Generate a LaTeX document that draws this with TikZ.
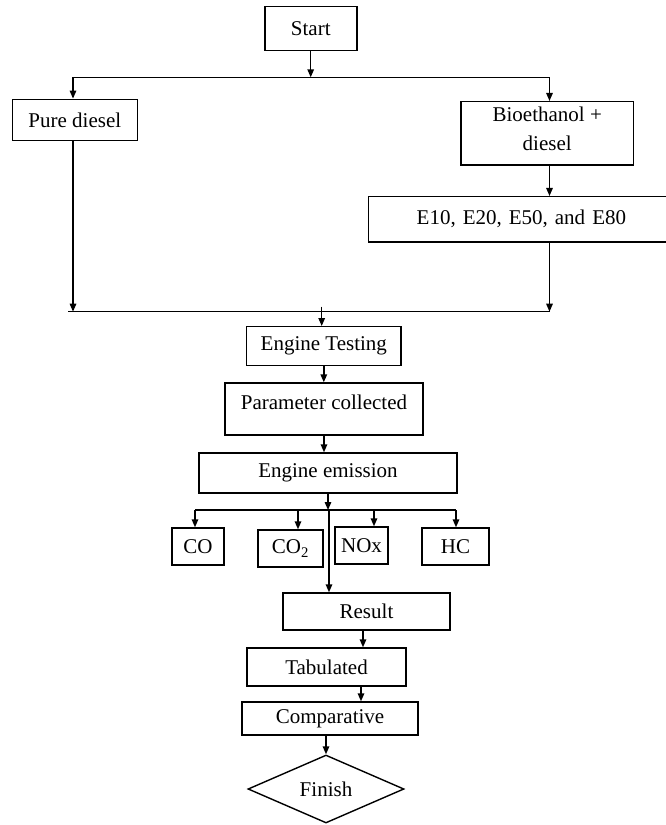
\documentclass[tikz,border=0pt]{standalone}
\usepackage{fontspec}
\setmainfont{Liberation Serif}
\newcommand{\boxfontsel}{\fontsize{21}{29}\selectfont}
\usetikzlibrary{arrows.meta,shapes.geometric}
\begin{document}
\begin{tikzpicture}[x=1pt,y=-1pt,line width=1.4pt,
  box/.style={draw,rectangle,inner sep=0pt,align=center,font=\boxfontsel},
  endbox/.style={draw,diamond,inner sep=0pt,font=\boxfontsel},
  arr/.style={-{Triangle[width=6.5pt,length=8pt]}}]
\useasboundingbox (0,0) rectangle (665,825);
% nodes
\node[box,minimum width=92pt,minimum height=44pt] (start) at (310.8,28.7) {Start};
\node[box,minimum width=125pt,minimum height=41.4pt] (pure) at (74.8,120) {Pure diesel};
\node[box,minimum width=172.3pt,minimum height=63.3pt,text depth=10pt] (bio) at (547.2,133.3) {Bioethanol +\\diesel};
\node[box,anchor=west,minimum height=45.3pt,text width=243pt,inner xsep=48.3pt,align=left] (e10) at (367.7,219.3) {E10, E20, E50, and E80};
\node[box,minimum width=154.3pt,minimum height=38.6pt] (engtest) at (323.8,346) {Engine Testing};
\node[box,minimum width=198pt,minimum height=52pt,text height=14pt,text depth=13pt] (param) at (324,409) {Parameter collected};
\node[box,minimum width=258pt,minimum height=40pt] (emis) at (328,473) {Engine emission};
\node[box,minimum width=52pt,minimum height=37pt] (co) at (198,546.5) {CO};
\node[box,minimum width=65pt,minimum height=37pt] (co2) at (290.5,548.5) {CO\textsubscript{2}};
\node[box,minimum width=53pt,minimum height=37pt] (nox) at (361.5,545.5) {NOx};
\node[box,minimum width=67pt,minimum height=37pt] (hc) at (455.5,546.5) {HC};
\node[box,minimum width=167pt,minimum height=37pt] (result) at (366.5,611.5) {Result};
\node[box,minimum width=159pt,minimum height=38pt] (tab) at (326.5,667) {Tabulated};
\node[box,minimum width=176pt,minimum height=33pt] (comp) at (330,718.5) {Comparative};
\node[endbox,minimum width=156pt,minimum height=68pt] (finish) at (326,789) {Finish};
% junction coordinates
\coordinate (s1) at (310.7,77.3);
\coordinate (sl) at (73,77.3);
\coordinate (sr) at (549.5,77.3);
\coordinate (ml) at (68.3,311.7);
\coordinate (mr) at (549.5,311.7);
\coordinate (mt) at (321.7,306.7);
\coordinate (eb) at (328,510);
\coordinate (el) at (195,510);
\coordinate (er) at (456,510);
\coordinate (e2) at (298,510);
\coordinate (e3) at (374,510);
\coordinate (ev) at (329,510);
% connectors
\draw[arr] (start.south -| s1) -- (s1);
\draw (sl) -- (sr);
\draw[arr] (sl) -- (sl |- pure.north);
\draw[arr] (sr) -- (sr |- bio.north);
\draw[arr] (sr |- bio.south) -- (sr |- e10.north);
\draw[arr] (sl |- pure.south) -- (sl |- ml);
\draw[arr] (mr |- e10.south) -- (mr);
\draw (ml) -- (mr);
\draw[arr] (mt) -- (mt |- engtest.north);
\draw[arr] (engtest.south) -- (engtest.south |- param.north);
\draw[arr] (param.south) -- (param.south |- emis.north);
\draw[arr] (emis.south -| eb) -- (eb);
\draw (el) -- (er);
\draw[arr] (el) -- (el |- co.north);
\draw[arr] (e2) -- (e2 |- co2.north);
\draw[arr] (e3) -- (e3 |- nox.north);
\draw[arr] (er) -- (er |- hc.north);
\draw[arr] (ev) -- (ev |- result.north);
\draw[arr] (363,0 |- result.south) -- (363,0 |- tab.north);
\draw[arr] (361,0 |- tab.south) -- (361,0 |- comp.north);
\draw[arr] (finish.north |- comp.south) -- (finish.north);
\end{tikzpicture}
\end{document}
